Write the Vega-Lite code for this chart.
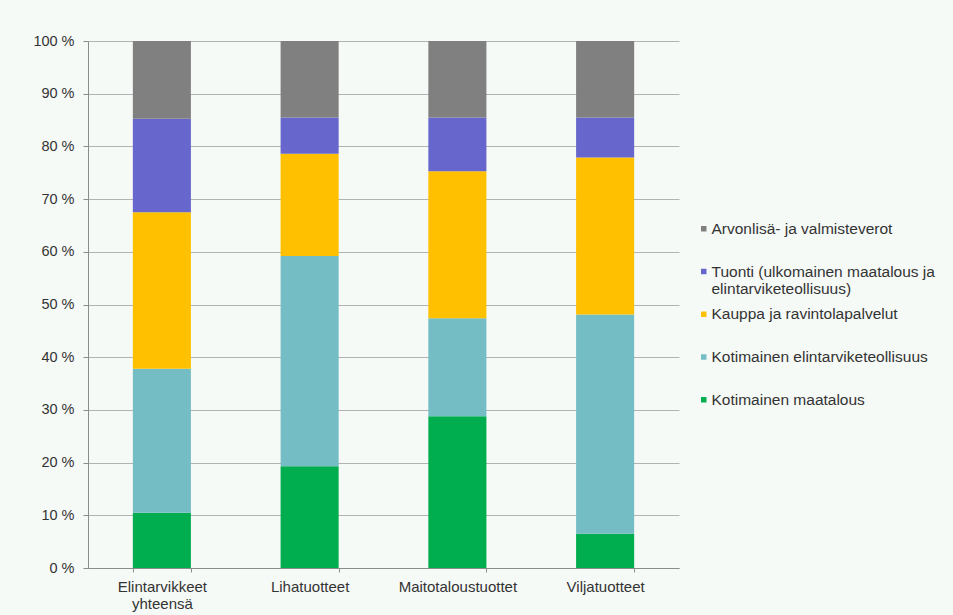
{
  "$schema": "https://vega.github.io/schema/vega-lite/v6.json",
  "width": 591,
  "height": 527,
  "autosize": {"type": "none"},
  "padding": {"left": 88, "top": 41, "right": 274, "bottom": 47},
  "background": "#f6faf7",
  "config": {
    "font": "Liberation Sans",
    "view": {"stroke": null}
  },
  "data": {
    "values": [
      {"tuoteryhma": "Elintarvikkeet yhteensä", "osa": "Kotimainen maatalous", "jarjestys": 1, "osuus": 10.5},
      {"tuoteryhma": "Elintarvikkeet yhteensä", "osa": "Kotimainen elintarviketeollisuus", "jarjestys": 2, "osuus": 27.3},
      {"tuoteryhma": "Elintarvikkeet yhteensä", "osa": "Kauppa ja ravintolapalvelut", "jarjestys": 3, "osuus": 29.7},
      {"tuoteryhma": "Elintarvikkeet yhteensä", "osa": "Tuonti (ulkomainen maatalous ja elintarviketeollisuus)", "jarjestys": 4, "osuus": 17.75},
      {"tuoteryhma": "Elintarvikkeet yhteensä", "osa": "Arvonlisä- ja valmisteverot", "jarjestys": 5, "osuus": 14.75},
      {"tuoteryhma": "Lihatuotteet", "osa": "Kotimainen maatalous", "jarjestys": 1, "osuus": 19.3},
      {"tuoteryhma": "Lihatuotteet", "osa": "Kotimainen elintarviketeollisuus", "jarjestys": 2, "osuus": 39.9},
      {"tuoteryhma": "Lihatuotteet", "osa": "Kauppa ja ravintolapalvelut", "jarjestys": 3, "osuus": 19.4},
      {"tuoteryhma": "Lihatuotteet", "osa": "Tuonti (ulkomainen maatalous ja elintarviketeollisuus)", "jarjestys": 4, "osuus": 6.9},
      {"tuoteryhma": "Lihatuotteet", "osa": "Arvonlisä- ja valmisteverot", "jarjestys": 5, "osuus": 14.5},
      {"tuoteryhma": "Maitotaloustuottet", "osa": "Kotimainen maatalous", "jarjestys": 1, "osuus": 28.8},
      {"tuoteryhma": "Maitotaloustuottet", "osa": "Kotimainen elintarviketeollisuus", "jarjestys": 2, "osuus": 18.6},
      {"tuoteryhma": "Maitotaloustuottet", "osa": "Kauppa ja ravintolapalvelut", "jarjestys": 3, "osuus": 27.9},
      {"tuoteryhma": "Maitotaloustuottet", "osa": "Tuonti (ulkomainen maatalous ja elintarviketeollisuus)", "jarjestys": 4, "osuus": 10.2},
      {"tuoteryhma": "Maitotaloustuottet", "osa": "Arvonlisä- ja valmisteverot", "jarjestys": 5, "osuus": 14.5},
      {"tuoteryhma": "Viljatuotteet", "osa": "Kotimainen maatalous", "jarjestys": 1, "osuus": 6.5},
      {"tuoteryhma": "Viljatuotteet", "osa": "Kotimainen elintarviketeollisuus", "jarjestys": 2, "osuus": 41.6},
      {"tuoteryhma": "Viljatuotteet", "osa": "Kauppa ja ravintolapalvelut", "jarjestys": 3, "osuus": 29.8},
      {"tuoteryhma": "Viljatuotteet", "osa": "Tuonti (ulkomainen maatalous ja elintarviketeollisuus)", "jarjestys": 4, "osuus": 7.6},
      {"tuoteryhma": "Viljatuotteet", "osa": "Arvonlisä- ja valmisteverot", "jarjestys": 5, "osuus": 14.5}
    ]
  },
  "mark": {"type": "bar"},
  "encoding": {
    "x": {
      "field": "tuoteryhma",
      "type": "nominal",
      "sort": ["Elintarvikkeet yhteensä", "Lihatuotteet", "Maitotaloustuottet", "Viljatuotteet"],
      "scale": {"paddingInner": 0.607, "paddingOuter": 0.3035},
      "axis": {
        "title": null,
        "labelAngle": 0,
        "tickBand": "extent",
        "tickSize": 4,
        "tickColor": "#8c8c8c",
        "domainColor": "#8c8c8c",
        "labelPadding": 7,
        "labelFont": "Liberation Sans",
        "labelFontSize": 15,
        "labelLineHeight": 17,
        "labelColor": "#333333",
        "labelExpr": "datum.label == 'Elintarvikkeet yhteensä' ? ['Elintarvikkeet', 'yhteensä'] : datum.label"
      }
    },
    "y": {
      "field": "osuus",
      "type": "quantitative",
      "stack": "normalize",
      "scale": {"domain": [0, 1]},
      "axis": {
        "title": null,
        "values": [0, 0.1, 0.2, 0.3, 0.4, 0.5, 0.6, 0.7, 0.8, 0.9, 1],
        "labelExpr": "round(datum.value * 100) + ' %'",
        "grid": true,
        "gridColor": "#b3b3b3",
        "gridWidth": 1,
        "domainColor": "#8c8c8c",
        "tickColor": "#8c8c8c",
        "tickSize": 5,
        "labelPadding": 9,
        "labelFont": "Liberation Sans",
        "labelFontSize": 14.5,
        "labelColor": "#333333"
      }
    },
    "color": {
      "field": "osa",
      "type": "nominal",
      "scale": {
        "domain": [
          "Arvonlisä- ja valmisteverot",
          "Tuonti (ulkomainen maatalous ja elintarviketeollisuus)",
          "Kauppa ja ravintolapalvelut",
          "Kotimainen elintarviketeollisuus",
          "Kotimainen maatalous"
        ],
        "range": ["#808080", "#6666cc", "#ffc000", "#74bdc4", "#00ad4f"]
      },
      "legend": {
        "title": null,
        "orient": "none",
        "legendX": 608,
        "legendY": 180,
        "padding": 0,
        "symbolType": "square",
        "symbolSize": 30,
        "symbolStrokeWidth": 0,
        "labelFont": "Liberation Sans",
        "labelFontSize": 15.5,
        "labelLineHeight": 17,
        "labelColor": "#333333",
        "labelLimit": 320,
        "labelOffset": 0,
        "rowPadding": 8.75,
        "labelExpr": "datum.label == 'Tuonti (ulkomainen maatalous ja elintarviketeollisuus)' ? ['Tuonti (ulkomainen maatalous ja', 'elintarviketeollisuus)'] : [datum.label, '']"
      }
    },
    "order": {"field": "jarjestys", "type": "quantitative"}
  }
}
